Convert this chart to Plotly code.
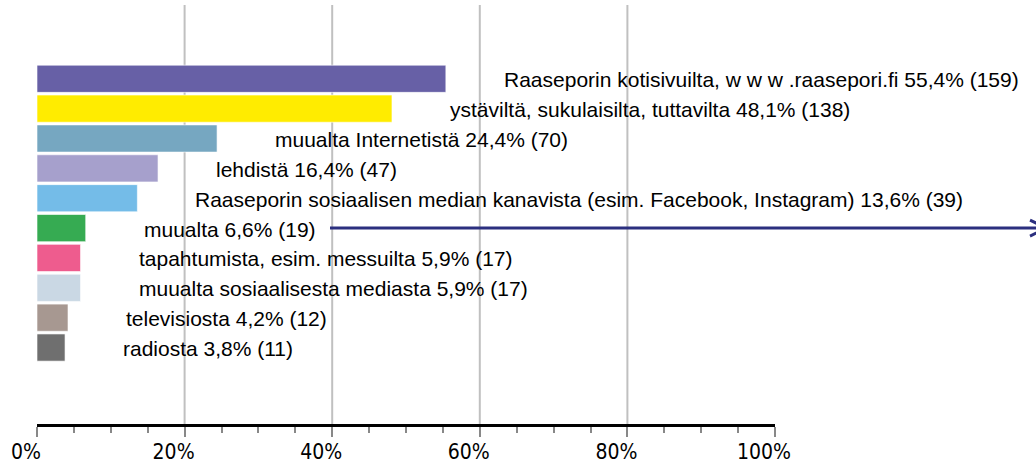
import plotly.graph_objects as go

# where did people hear about it
sources = [
    "Raaseporin kotisivuilta, w w w .raasepori.fi",
    "ystäviltä, sukulaisilta, tuttavilta",
    "muualta Internetistä",
    "lehdistä",
    "Raaseporin sosiaalisen median kanavista (esim. Facebook, Instagram)",
    "muualta",
    "tapahtumista, esim. messuilta",
    "muualta sosiaalisesta mediasta",
    "televisiosta",
    "radiosta",
]
percent = [55.4, 48.1, 24.4, 16.4, 13.6, 6.6, 5.9, 5.9, 4.2, 3.8]
counts = [159, 138, 70, 47, 39, 19, 17, 17, 12, 11]
colors = ["#6760a6", "#ffec00", "#76a7c1", "#a6a0cc", "#74bce8",
          "#36ab52", "#ee5c8e", "#cad8e4", "#a79891", "#6f6f6f"]
x_ticks = [0, 20, 40, 60, 80, 100]
arrow_row = "muualta"

fig = go.Figure()
fig.add_trace(go.Bar(
    x=percent, y=sources, orientation="h",
    marker=dict(color=colors, line=dict(color="white", width=0.6)),
    hoverinfo="skip", showlegend=False,
))

for name, p, c in zip(sources, percent, counts):
    label = f"{name} {str(p).replace('.', ',')}% ({c})"
    fig.add_annotation(x=p, y=name, text=label, showarrow=False,
                       xanchor="left", yanchor="middle", xshift=56, yshift=-1,
                       font=dict(family="Liberation Sans, Arial", size=21, color="black"))

# gridlines only at the inner ticks
for t in x_ticks[1:-1]:
    fig.add_vline(x=t, line=dict(color="#c0c0c0", width=2), layer="below")

# long arrow running off the right edge
fig.add_annotation(x=137.2, y=arrow_row, ax=39.5, ay=arrow_row,
                   xref="x", yref="y", axref="x", ayref="y",
                   text="", showarrow=True, arrowhead=5, arrowsize=1.05,
                   arrowwidth=3, arrowcolor="#2b2f7f")

fig.update_xaxes(range=[0, 100], tickvals=x_ticks,
                 ticktext=[f"{t}%" for t in x_ticks],
                 showgrid=False, zeroline=False, automargin=False,
                 showline=True, linecolor="black", linewidth=3,
                 ticks="outside", ticklen=10, tickwidth=2, tickcolor="#888888",
                 minor=dict(dtick=5, ticks="outside", ticklen=6, tickwidth=2,
                            tickcolor="#888888", showgrid=False),
                 ticklabelshift=-11, ticklabelstandoff=-3,
                 tickfont=dict(family="DejaVu Sans Condensed, DejaVu Sans", size=21, color="black"))
fig.update_yaxes(categoryorder="array", categoryarray=sources,
                 range=[11.56, -2.47], showticklabels=False, showgrid=False,
                 zeroline=False, showline=False, automargin=False)

fig.update_layout(width=1036, height=464, bargap=0.09,
                  margin=dict(l=37, r=261, t=5, b=40),
                  plot_bgcolor="white", paper_bgcolor="white")

# drop the page's default body margin so the figure sits at the corner
fig.write_html("out.html", config={"displayModeBar": False},
               post_script="document.body.style.margin = '0';")
